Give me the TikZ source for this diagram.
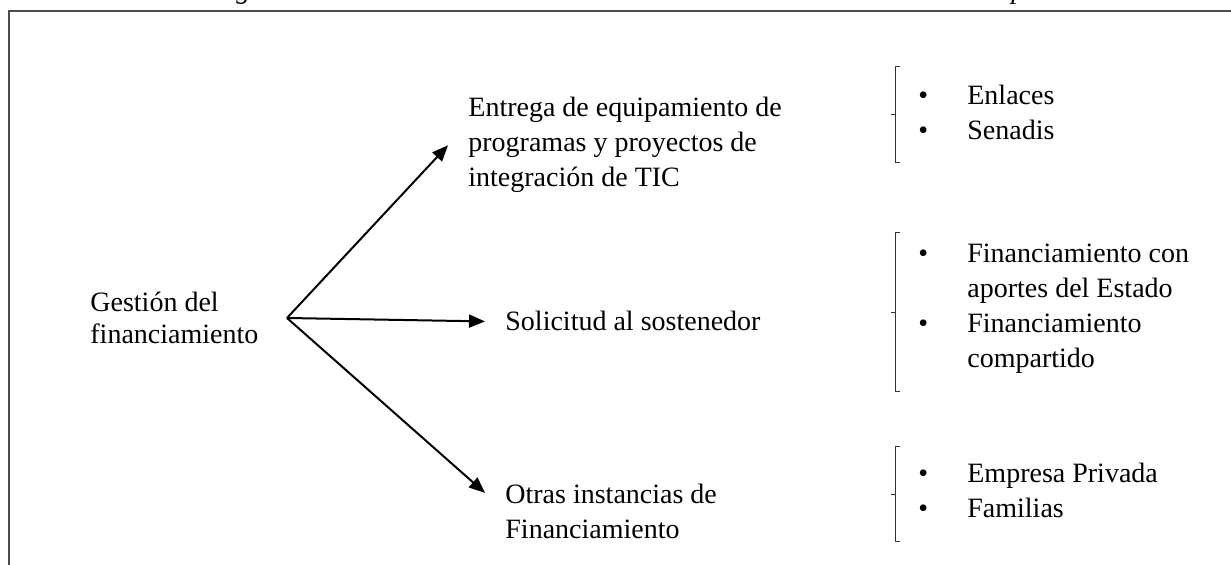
\documentclass[tikz,border=0pt]{standalone}
\usepackage{fontspec}
\setmainfont{Liberation Serif}
\usetikzlibrary{arrows.meta,positioning}

\begin{document}
\begin{tikzpicture}[x=0.5pt,y=-0.5pt,
    txt/.style={inner sep=0pt, align=left, anchor=base west, font=\fontsize{14}{17.5}\selectfont},
    lst/.style={inner sep=0pt, anchor=north west, font=\fontsize{14}{17.5}\selectfont},
    arr/.style={-{Triangle[length=8pt,width=6.5pt]}, line width=1pt},
    brk/.style={line width=0.5pt, draw=black!80}
    ]
    \useasboundingbox (0,0) rectangle (1231,565);
    \clip (0,0) rectangle (1231,565);

    % caption above the frame, cut off
    \node[txt, font=\fontsize{14}{17.5}\selectfont\itshape] (c_0) at (236,-1) {g};
    \node[txt, font=\fontsize{14}{17.5}\selectfont\itshape] (c_1) at (1011,-1) {p};
    \draw[black!70, line width=1pt] (1240,11.5) -- (9,11.5) -- (9,575);

    % base of a multi-line node is its last line
    \node[txt, font=\fontsize{14}{16}\selectfont] (n_0) at (90,344) {Gestión del\\financiamiento};
    \node[txt] (n_1) at (468,187) {Entrega de equipamiento de\\programas y proyectos de\\integración de TIC};
    \node[txt] (n_2) at (505,331) {Solicitud al sostenedor};
    \node[txt] (n_3) at (505,539) {Otras instancias de\\Financiamiento};

    \coordinate (hub) at (287,318);
    \draw[arr] (hub) -- ([xshift=-10pt]n_1.west);
    \draw[arr] (hub) -- ([xshift=-10pt]n_2.west);
    \draw[arr] (hub) -- ([xshift=-10pt,yshift=9.5pt]n_3.west);

    \node[lst] (l_1) at (918,79.5) {\begin{tabular}{@{}p{24.5pt}@{}l@{}}
        \textbullet & Enlaces\\
        \textbullet & Senadis
    \end{tabular}};
    \node[lst] (l_2) at (918,237.5) {\begin{tabular}{@{}p{24.5pt}@{}l@{}}
        \textbullet & Financiamiento con\\
                    & aportes del Estado\\
        \textbullet & Financiamiento\\
                    & compartido
    \end{tabular}};
    \node[lst] (l_3) at (918,457.5) {\begin{tabular}{@{}p{24.5pt}@{}l@{}}
        \textbullet & Empresa Privada\\
        \textbullet & Familias
    \end{tabular}};

    \foreach \t/\b in {67/163, 233/392, 447/542} {
        \draw[brk] (900,\t) -- (895,\t) -- (895,\b) -- (900,\b);
        \draw[brk] (895,{(\t+\b)/2}) -- (891,{(\t+\b)/2});
    }
\end{tikzpicture}
\end{document}
